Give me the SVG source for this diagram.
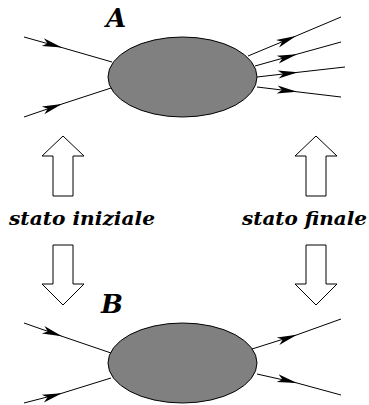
<svg xmlns="http://www.w3.org/2000/svg" width="369" height="405" viewBox="0 0 369 405">
<style>
.blob{fill:#808080;stroke:#000;stroke-width:1}
.ln{fill:none;stroke:#000;stroke-width:1;marker-mid:url(#ah)}
.big{fill:#fff;stroke:#000;stroke-width:1}
.lbl{font-family:"DejaVu Serif","Liberation Serif",serif;font-weight:bold;font-style:italic;fill:#000}
</style>
<defs>
<marker id="ah" markerUnits="userSpaceOnUse" markerWidth="24" markerHeight="10" viewBox="-22 -5 24 10" refX="0" refY="0" orient="auto" overflow="visible">
<path d="M0,0 L-20,-4 L-15,0 L-20,4 Z" fill="#000"/>
</marker>
</defs>
<rect width="369" height="405" fill="#fff"/>
<g id="connectors">
<polyline class="ln" points="24,37 62,47.6 112,62"/>
<polyline class="ln" points="24,117 62,104 111,88"/>
<polyline class="ln" points="248,56 296,36 341,17"/>
<polyline class="ln" points="255,66 297,54.2 341,42"/>
<polyline class="ln" points="257,77 298,72.3 345,67"/>
<polyline class="ln" points="257,87 297,91.8 341,97"/>
<polyline class="ln" points="24,323 62,336.3 111,353"/>
<polyline class="ln" points="24,403 62,393.2 111,378"/>
<polyline class="ln" points="252,349 297,334.8 341,319"/>
<polyline class="ln" points="257,374 297,383 341,395"/>
</g>
<g id="nodeA">
<ellipse class="blob" cx="182.5" cy="77" rx="74.5" ry="40"/>
<text class="lbl" x="106" y="27" font-size="26">A</text>
</g>
<g id="nodeB">
<ellipse class="blob" cx="182.5" cy="363" rx="74.5" ry="40"/>
<text class="lbl" x="101" y="313" font-size="26">B</text>
</g>
<g id="initial">
<polygon class="big" points="63,136 84,156 73,156 73,196 53,196 53,156 42,156"/>
<text class="lbl" x="9" y="224.5" font-size="19" textLength="146" lengthAdjust="spacingAndGlyphs">stato iniziale</text>
<polygon class="big" points="53,245 73,245 73,284 84,284 63,305 42,284 53,284"/>
</g>
<g id="final">
<polygon class="big" points="316,136 337,156 326,156 326,196 306,196 306,156 295,156"/>
<text class="lbl" x="242" y="224.5" font-size="19" textLength="125" lengthAdjust="spacingAndGlyphs">stato finale</text>
<polygon class="big" points="306,245 326,245 326,284 337,284 316,305 295,284 306,284"/>
</g>
</svg>
